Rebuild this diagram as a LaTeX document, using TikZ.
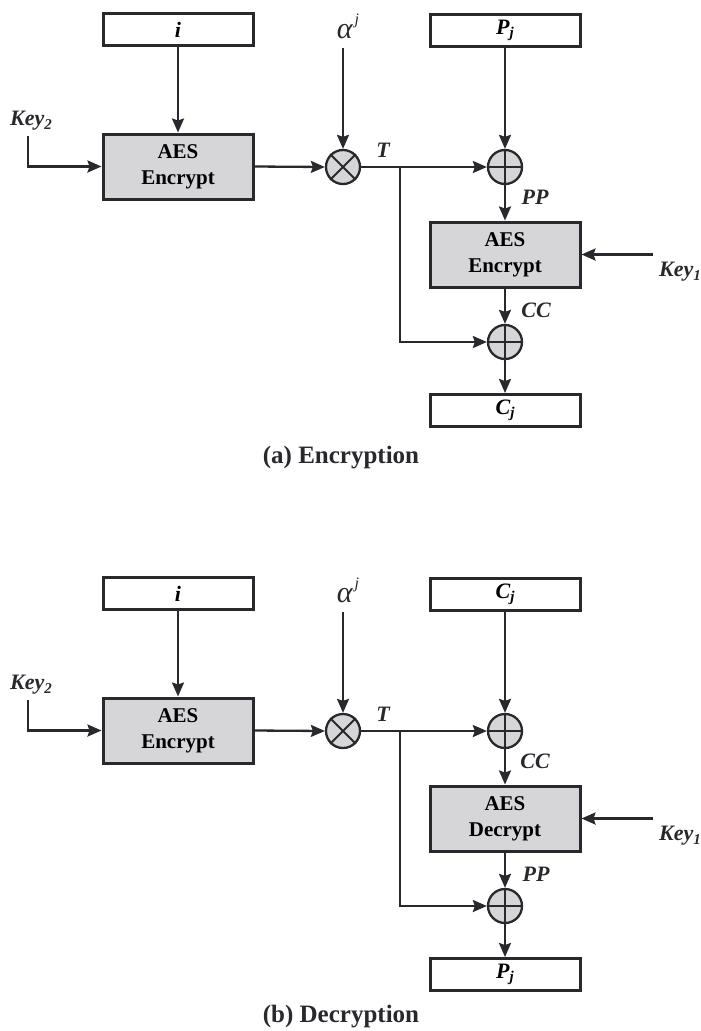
\documentclass[tikz,border=0pt]{standalone}
\usepackage{fontspec}
\setmainfont{Liberation Serif}
\usetikzlibrary{arrows.meta}
\definecolor{lc}{RGB}{40,40,45}
\definecolor{gf}{RGB}{214,214,217}
\newcommand\sbs[1]{\raisebox{-0.35ex}{\fontsize{15}{15}\selectfont #1}}
\newcommand\lbl{\fontsize{22}{24}\selectfont\bfseries\itshape}
\tikzset{
  arr/.style={draw=lc,line width=2.3pt,-{Stealth[length=14pt,width=12pt,inset=2pt]}},
  smallbox/.style={draw=lc,line width=3pt,fill=white,minimum width=150pt,minimum height=32pt,inner sep=0pt,font=\lbl},
  aesbox/.style={draw=lc,line width=3pt,fill=gf,minimum width=150pt,minimum height=65pt,inner sep=0pt,align=center,font=\fontsize{21}{26}\selectfont\bfseries},
  xorc/.style={circle,draw=lc,line width=2.3pt,fill=gf,minimum size=34pt,inner sep=0pt},
  lab/.style={inner sep=0pt,font=\lbl,text=lc},
  capt/.style={inner sep=0pt,font=\fontsize{25}{27}\selectfont\bfseries,text=lc},
}
\newcommand\xtsblock[8]{%
  \node[smallbox] (#1i) at (178,29.5) {i};
  \node[aesbox] (#1aes) at (178,166.5) {AES\\Encrypt};
  \node[lab] (#1key2) at (31,121) {Key\sbs{2}};
  \coordinate (#1k2) at (28,136);
  \node[inner sep=0pt,text=lc] (#1alpha) at (348,26) {\fontsize{30}{30}\selectfont\itshape α\kern2pt\raisebox{1.0ex}{\fontsize{16}{16}\selectfont j}};
  \coordinate (#1ak) at (343,48);
  \node[xorc] (#1ot) at (343,167) {};
  \node[lab] (#1T) at (383,150) {T};
  \coordinate (#1sp) at (400,167);
  \node[smallbox] (#1top) at (505,30.5) {#2};
  \node[xorc] (#1op1) at (505,167) {};
  \node[lab] (#1m1) at (535,197) {#3};
  \node[aesbox] (#1aes2) at (505,254.5) {AES\\#4};
  \node[lab] (#1key1) at (680,272) {Key\sbs{1}};
  \coordinate (#1k1) at (653,254.5);
  \node[lab] (#1m2) at (536,310) {#5};
  \node[xorc] (#1op2) at (505,342) {};
  \node[smallbox] (#1bot) at (505,410.5) {#6};
  \node[capt] (#1cap) at (341,#8) {#7};
  \draw[lc,line width=2pt] (#1ot.north east) -- (#1ot.south west) (#1ot.north west) -- (#1ot.south east);
  \draw[lc,line width=2pt] (#1op1.north) -- (#1op1.south) (#1op1.west) -- (#1op1.east);
  \draw[lc,line width=2pt] (#1op2.north) -- (#1op2.south) (#1op2.west) -- (#1op2.east);
  \draw[arr] (#1i) -- (#1aes);
  \draw[arr] (#1k2) |- (#1aes.west);
  \draw[arr] (#1ak) -- (#1ot.north);
  \draw[arr] (#1aes.east) -- (#1ot.west);
  \draw[arr] (#1ot.east) -- (#1op1.west);
  \draw[arr] (#1sp) |- (#1op2.west);
  \draw[arr] (#1top) -- (#1op1);
  \draw[arr] (#1op1) -- (#1aes2);
  \draw[arr] (#1k1) -- (#1aes2.east);
  \draw[arr] (#1aes2) -- (#1op2);
  \draw[arr] (#1op2) -- (#1bot);
}
\begin{document}
\begin{tikzpicture}[x=1pt,y=-1pt]
\useasboundingbox (0,0) rectangle (701,1031);
\begin{scope}
\xtsblock{a}{P\sbs{\itshape j}}{PP}{Encrypt}{CC}{C\sbs{\itshape j}}{(a) Encryption}{458}
\end{scope}
\begin{scope}[yshift=-564pt]
\xtsblock{b}{C\sbs{\itshape j}}{CC}{Decrypt}{PP}{P\sbs{\itshape j}}{(b) Decryption}{453}
\end{scope}
\end{tikzpicture}
\end{document}
